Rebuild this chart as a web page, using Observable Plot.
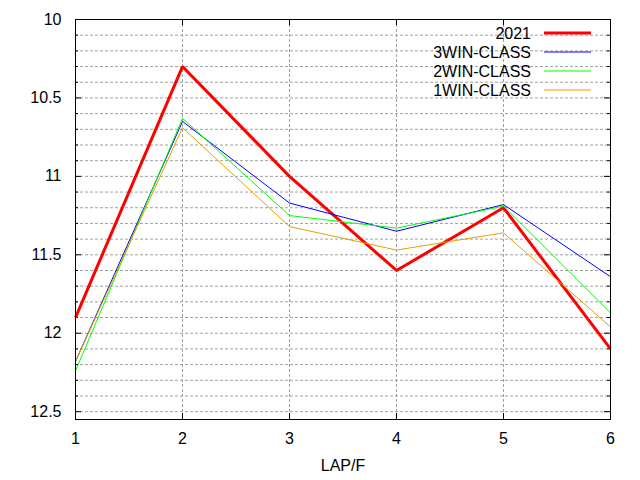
<!DOCTYPE html>
<html>
<head>
<meta charset="utf-8">
<script src="https://cdn.jsdelivr.net/npm/d3@7"></script>
<script src="https://cdn.jsdelivr.net/npm/@observablehq/plot@0.6"></script>
<style>
  body { margin: 0; background: #fff; }
  #wrap { position: relative; width: 640px; height: 480px; }
  #legend { position: absolute; left: 0; top: 0; pointer-events: none; }
  text { font-family: "Liberation Sans", Arial, sans-serif; }
</style>
</head>
<body>
<div id="wrap"></div>
<script>
// ---- data ----
const laps = [1, 2, 3, 4, 5, 6];
const s2021 = [11.9, 10.3, 11.0, 11.6, 11.2, 12.1];
const s3win = [12.18, 10.65, 11.17, 11.35, 11.18, 11.64];
const s2win = [12.24, 10.63, 11.25, 11.33, 11.19, 11.87];
const s1win = [12.18, 10.69, 11.32, 11.47, 11.36, 11.96];
const seriesNames = ["2021", "3WIN-CLASS", "2WIN-CLASS", "1WIN-CLASS"];
const seriesColors = ["#ff0000", "#0000ff", "#00ff00", "#e69f00"];
const seriesWidths = [3, 1, 1, 1];
const yMajor = [10, 10.5, 11, 11.5, 12, 12.5];
const yMinor = [10.1,10.2,10.3,10.4,10.6,10.7,10.8,10.9,11.1,11.2,11.3,11.4,11.6,11.7,11.8,11.9,12.1,12.2,12.3,12.4];
const yGrid = [10.1,10.2,10.3,10.4,10.5,10.6,10.7,10.8,10.9,11,11.1,11.2,11.3,11.4,11.5,11.6,11.7,11.8,11.9,12,12.1,12.2,12.3,12.4,12.5];
const xTicks = [1, 2, 3, 4, 5, 6];
const xGrid = [2, 3, 4, 5];

const allSeries = [s2021, s3win, s2win, s1win];
const rows = allSeries.flatMap((vals, i) =>
  laps.map((lap, j) => ({lap, time: vals[j], series: seriesNames[i]})));

const W = 640, H = 480;
const mL = 75, mR = 30, mT = 19, mB = 61;
const pw = W - mL - mR, ph = H - mT - mB;
const font = "Liberation Sans, Arial, sans-serif";

const lineMarks = seriesNames.map((name, i) =>
  Plot.line(rows.filter(d => d.series === name), {
    x: "lap", y: "time", stroke: seriesColors[i], strokeWidth: seriesWidths[i],
    strokeLinejoin: "miter", strokeLinecap: "butt"
  }));

const chart = Plot.plot({
  width: W, height: H,
  marginLeft: mL, marginRight: mR, marginTop: mT, marginBottom: mB,
  style: {fontFamily: font, fontSize: "16px", background: "#fff", color: "#000"},
  x: {domain: [1, 6], axis: null},
  y: {domain: [10, 12.55], reverse: true, axis: null},
  marks: [
    Plot.ruleY(yGrid, {y: d => d, stroke: "#a0a0a0", strokeWidth: 1, strokeDasharray: "3,2"}),
    Plot.ruleX(xGrid, {x: d => d, stroke: "#a0a0a0", strokeWidth: 1, strokeDasharray: "3,2"}),
    // inward ticks
    Plot.tickY(yMajor, {y: d => d, stroke: "#000", insetRight: pw - 6}),
    Plot.tickY(yMajor, {y: d => d, stroke: "#000", insetLeft: pw - 6}),
    Plot.tickY(yMinor, {y: d => d, stroke: "#000", insetRight: pw - 3}),
    Plot.tickY(yMinor, {y: d => d, stroke: "#000", insetLeft: pw - 3}),
    Plot.tickX(xTicks, {x: d => d, stroke: "#000", insetTop: ph - 6}),
    Plot.tickX(xTicks, {x: d => d, stroke: "#000", insetBottom: ph - 6}),
    ...lineMarks,
    Plot.frame({stroke: "#000", strokeWidth: 1}),
    // tick labels
    Plot.text(yMajor, {y: d => d, text: d => d3.format("")(d), frameAnchor: "left",
      dx: -14, textAnchor: "end", fontSize: 16, fill: "#000"}),
    Plot.text(xTicks, {x: d => d, text: d => String(d), frameAnchor: "bottom",
      dy: 19, lineAnchor: "middle", fontSize: 16, fill: "#000"}),
    Plot.text(["LAP/F"], {frameAnchor: "bottom", dy: 46, lineAnchor: "middle",
      fontSize: 16, fill: "#000"})
  ]
});

const wrap = document.getElementById("wrap");
wrap.appendChild(chart);

// legend overlay
const ns = "http://www.w3.org/2000/svg";
const leg = document.createElementNS(ns, "svg");
leg.setAttribute("id", "legend");
leg.setAttribute("width", W);
leg.setAttribute("height", H);
seriesNames.forEach((name, i) => {
  const cy = 33 + i * 19;
  const t = document.createElementNS(ns, "text");
  t.setAttribute("x", 531);
  t.setAttribute("y", cy);
  t.setAttribute("dy", "0.35em");
  t.setAttribute("text-anchor", "end");
  t.setAttribute("font-size", "16");
  t.setAttribute("font-family", font);
  t.setAttribute("fill", "#000");
  t.textContent = name;
  leg.appendChild(t);
  const l = document.createElementNS(ns, "line");
  l.setAttribute("x1", 544); l.setAttribute("x2", 591);
  l.setAttribute("y1", cy); l.setAttribute("y2", cy);
  l.setAttribute("stroke", seriesColors[i]);
  l.setAttribute("stroke-width", seriesWidths[i]);
  leg.appendChild(l);
});
wrap.appendChild(leg);
</script>
</body>
</html>
